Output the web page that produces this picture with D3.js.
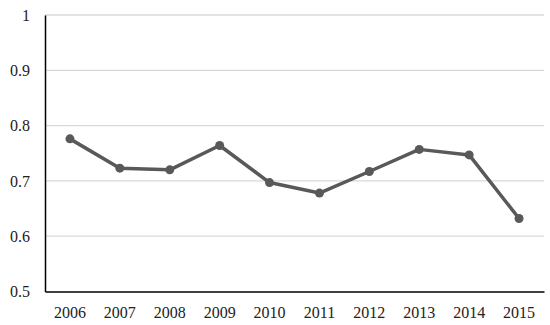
<!DOCTYPE html>
<html>
<head>
<meta charset="utf-8">
<script src="https://cdn.jsdelivr.net/npm/d3@7"></script>
<style>
  body { margin: 0; background: #fff; }
</style>
</head>
<body>
<script>
(function(){

//chart data
var years = ["2006", "2007", "2008", "2009", "2010", "2011", "2012", "2013", "2014", "2015"];
var values = [0.776, 0.723, 0.720, 0.764, 0.697, 0.678, 0.717, 0.757, 0.747, 0.632];
var yTicks = [0.5, 0.6, 0.7, 0.8, 0.9, 1];

var width = 550,
    height = 325;
var fontFam = "Liberation Serif";

var svg = d3.select("body")
    .append("svg")
    .attr("width", width)
    .attr("height", height);

//scales
var x = d3.scaleBand()
    .domain(years)
    .range([45, 544]);

var y = d3.scaleLinear()
    .domain([0.5, 1])
    .range([291.5, 15]);

//gridlines
svg.selectAll(".grid")
    .data(yTicks.slice(1))
    .enter()
    .append("line")
    .attr("class", "grid")
    .attr("x1", 45)
    .attr("x2", 544)
    .attr("y1", function(d){ return y(d); })
    .attr("y2", function(d){ return y(d); })
    .attr("stroke", "#d9d9d9")
    .attr("stroke-width", 1.3);

//y axis
var yAxis = svg.append("g")
    .attr("transform", "translate(45,0)")
    .call(d3.axisLeft(y).tickValues(yTicks).tickFormat(d3.format("")).tickSize(0).tickPadding(15))
    .attr("font-family", fontFam)
    .attr("font-size", 16);
yAxis.select(".domain").attr("stroke", "#000").attr("stroke-width", 1.5);

//x axis
var xAxis = svg.append("g")
    .attr("transform", "translate(0," + y(0.5) + ")")
    .call(d3.axisBottom(x).tickSize(0).tickPadding(15))
    .attr("font-family", fontFam)
    .attr("font-size", 16);
xAxis.select(".domain").attr("stroke", "#000").attr("stroke-width", 1.5);

svg.selectAll(".tick text").attr("fill", "#222");

//line
var line = d3.line()
    .x(function(d, i){ return x(years[i]) + x.bandwidth() / 2; })
    .y(function(d){ return y(d); });

svg.append("path")
    .datum(values)
    .attr("fill", "none")
    .attr("stroke", "#595959")
    .attr("stroke-width", 3.5)
    .attr("stroke-linejoin", "round")
    .attr("d", line);

svg.selectAll(".dot")
    .data(values)
    .enter()
    .append("circle")
    .attr("class", "dot")
    .attr("cx", function(d, i){ return x(years[i]) + x.bandwidth() / 2; })
    .attr("cy", function(d){ return y(d); })
    .attr("r", 4.5)
    .attr("fill", "#595959");

})();
</script>
</body>
</html>
